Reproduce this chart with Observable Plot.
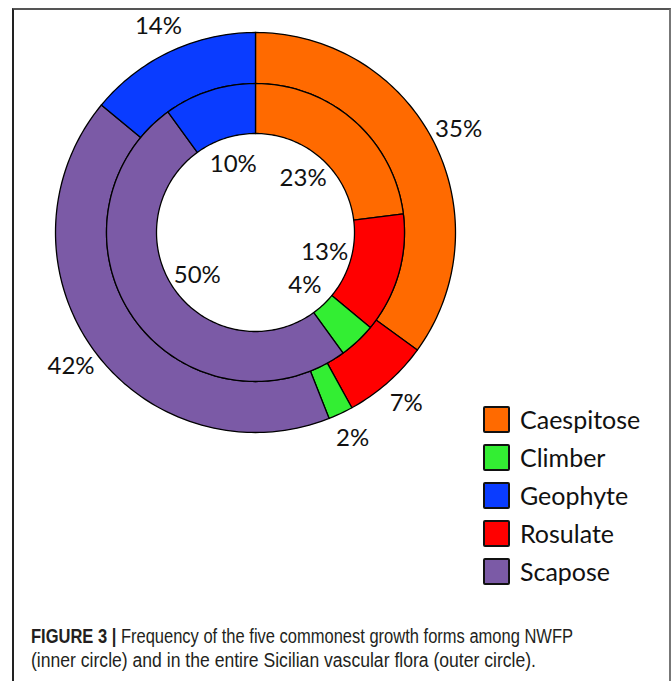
<!DOCTYPE html>
<html>
<head>
<meta charset="utf-8">
<script src="https://cdn.jsdelivr.net/npm/d3@7"></script>
<script src="https://cdn.jsdelivr.net/npm/@observablehq/plot@0.6"></script>
<style>
  html, body { margin: 0; padding: 0; background: #fff; }
  body { width: 672px; height: 681px; position: relative; overflow: hidden; }
  #frame { position: absolute; left: 12px; top: 8px; width: 659px; height: 700px;
    border-top: 2px solid #555; border-left: 2px solid #222; border-right: 2px solid #777; box-sizing: border-box; }
  #chart { position: absolute; left: 0; top: 0; }
  #legend { position: absolute; left: 483px; top: 400px; font-family: Lato, "Open Sans", sans-serif; font-size: 25px; color: #111; }
  .item { height: 38px; display: flex; align-items: center; margin-top: 0; }
  .sw { width: 23px; height: 23px; border: 2px solid #111; border-radius: 2px; margin-right: 10px; box-sizing: content-box; }
  #caption { position: absolute; left: 31px; top: 624px; font-family: "Liberation Sans Narrow", "Arial Narrow", "Liberation Sans", sans-serif; font-size: 19.5px; line-height: 24px; color: #231f20; }
  .cl { display: block; white-space: nowrap; }
  .cl span.inner { display: inline-block; transform-origin: 0 50%; }
  #caption b { font-weight: bold; }
</style>
</head>
<body>
<div id="frame"></div>
<div id="chart"></div>
<div id="legend"></div>
<div id="caption">
  <div class="cl" data-w="542"><span class="inner"><b>FIGURE 3 |</b> Frequency of the five commonest growth forms among NWFP</span></div>
  <div class="cl" data-w="505"><span class="inner">(inner circle) and in the entire Sicilian vascular flora (outer circle).</span></div>
</div>
<script>
// Legend categories (alphabetical) and their colours
const categories = ["Caespitose", "Climber", "Geophyte", "Rosulate", "Scapose"];
const colors = ["#ff6a00", "#33ee33", "#0a3cff", "#ff0000", "#7b5aa6"];
// Clockwise order of the slices starting at 12 o'clock
const ringOrder = ["Caespitose", "Rosulate", "Climber", "Scapose", "Geophyte"];
// Percentages in ringOrder
const innerValues = [23, 13, 4, 50, 10];   // NWFP (inner circle)
const outerValues = [35, 7, 2, 42, 14];    // Sicilian vascular flora (outer circle)

const HOLE = 0.495, MID = 0.745, OUTER = 1;

function ringPolys(values, r0, r1, ring) {
  let cum = 0;
  const pts = [];
  values.forEach((v, i) => {
    const a0 = cum / 100 * 2 * Math.PI;
    const a1 = (cum + v) / 100 * 2 * Math.PI;
    cum += v;
    const n = Math.max(4, Math.ceil(v * 3));
    const id = ring + i, key = ringOrder[i];
    for (let k = 0; k <= n; k++) {
      const a = a0 + (a1 - a0) * k / n;
      pts.push({id, key, x: r1 * Math.sin(a), y: r1 * Math.cos(a)});
    }
    for (let k = n; k >= 0; k--) {
      const a = a0 + (a1 - a0) * k / n;
      pts.push({id, key, x: r0 * Math.sin(a), y: r0 * Math.cos(a)});
    }
    pts.push({id, key, x: r1 * Math.sin(a0), y: r1 * Math.cos(a0)});
  });
  return pts;
}

function ringLabels(values, r) {
  let cum = 0;
  return values.map((v, i) => {
    const a = (cum + v / 2) / 100 * 2 * Math.PI;
    cum += v;
    return {text: v + "%", x: r * Math.sin(a), y: r * Math.cos(a)};
  });
}

const polys = [...ringPolys(outerValues, MID, OUTER, "o"), ...ringPolys(innerValues, HOLE, MID, "i")];
const labels = [...ringLabels(innerValues, 0.36), ...ringLabels(outerValues, 1.14)];

const chart = Plot.plot({
  width: 672,
  height: 600,
  margin: 0,
  x: {domain: [-1, 1], range: [55, 455], axis: null},
  y: {domain: [-1, 1], range: [432, 32], axis: null},
  color: {domain: categories, range: colors},
  marks: [
    Plot.line(polys, {x: "x", y: "y", z: "id", fill: "key", stroke: "#000", strokeWidth: 1.3, curve: "linear"}),
    Plot.text(labels, {x: "x", y: "y", text: "text", fontSize: 24, fontFamily: "Lato, 'Open Sans', sans-serif", fill: "#111"})
  ]
});
chart.style.background = "transparent";
document.getElementById("chart").appendChild(chart);

const legend = document.getElementById("legend");
categories.forEach((c, i) => {
  const item = document.createElement("div");
  item.className = "item";
  const sw = document.createElement("div");
  sw.className = "sw";
  sw.style.background = colors[i];
  const t = document.createElement("span");
  t.textContent = c;
  item.appendChild(sw);
  item.appendChild(t);
  legend.appendChild(item);
});

// Condense caption lines to the reference's narrow typeface width
document.querySelectorAll("#caption .cl").forEach(line => {
  const span = line.querySelector(".inner");
  const w = span.getBoundingClientRect().width;
  const target = +line.dataset.w;
  if (w > 0) span.style.transform = `scaleX(${Math.min(1, target / w)})`;
});
</script>
</body>
</html>
